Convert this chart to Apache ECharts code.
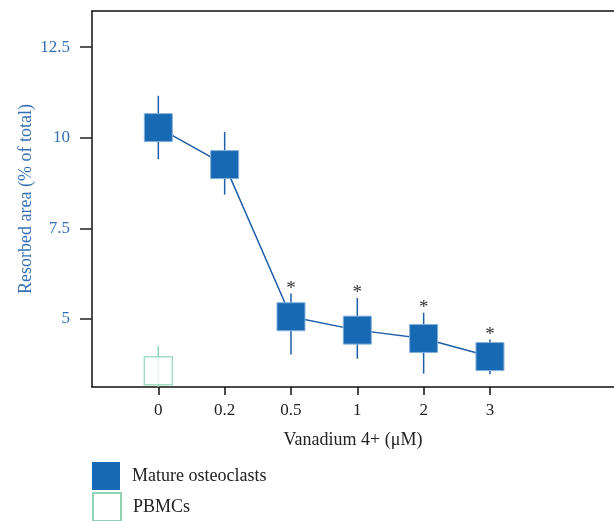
<!DOCTYPE html>
<html>
<head>
<meta charset="utf-8">
<script src="https://cdn.jsdelivr.net/npm/echarts@6/dist/echarts.min.js"></script>
<style>
html,body{margin:0;padding:0;background:#fff;}
#chart{width:614px;height:521px;}
</style>
</head>
<body>
<div id="chart"></div>
<script>
// ---- data ----
const doses = ['0', '0.2', '0.5', '1', '2', '3'];
const matureMean = [10.28, 9.26, 5.06, 4.69, 4.46, 3.96];
const matureLow  = [9.41, 8.43, 4.02, 3.90, 3.49, 3.47];
const matureHigh = [11.16, 10.16, 5.70, 5.58, 5.17, 4.43];
const significant = [false, false, true, true, true, true];
const pbmcDoseIndex = [0];
const pbmcMean = [3.57];
const pbmcLow  = [3.12];
const pbmcHigh = [4.25];
const yTicks = [5, 7.5, 10, 12.5];

const FONT = "'Liberation Serif', 'DejaVu Serif', serif";
const BLUE = '#1769b3';
const LINE_BLUE = '#1f5ea9';
const LABEL_BLUE = '#3470b5';
const GREEN = '#8fd3b4';

const matureBars = doses.map((d, i) => [i, matureLow[i], matureHigh[i]]);
const pbmcBars = pbmcDoseIndex.map((xi, i) => [xi, pbmcLow[i], pbmcHigh[i]]);
const starData = doses.map((d, i) => [i, matureHigh[i]]).filter((p, i) => significant[i]);

function errRender(color) {
  return function (params, api) {
    const x = api.value(0);
    const p1 = api.coord([x, api.value(1)]);
    const p2 = api.coord([x, api.value(2)]);
    return {
      type: 'line',
      shape: { x1: p1[0], y1: p1[1], x2: p2[0], y2: p2[1] },
      style: { stroke: color, lineWidth: 1.5 }
    };
  };
}
function starRender(params, api) {
  const p = api.coord([api.value(0), api.value(1)]);
  return {
    type: 'text',
    style: {
      text: '*', x: p[0], y: p[1] + 5,
      textAlign: 'center', textVerticalAlign: 'bottom',
      fontFamily: FONT, fontSize: 19, fill: '#333'
    }
  };
}

const legendBase = {
  orient: 'vertical', left: 92, padding: 0,
  itemWidth: 28, itemHeight: 28,
  textStyle: { fontFamily: FONT, fontSize: 18, color: '#222', padding: [0, 0, 0, 7] }
};

const chart = echarts.init(document.getElementById('chart'), null, { renderer: 'canvas' });
chart.setOption({
  animation: false,
  backgroundColor: '#fff',
  grid: { left: 92, right: 0, top: 11, bottom: 134, containLabel: false },
  legend: [
    Object.assign({}, legendBase, { top: 462, data: [{ name: 'Mature osteoclasts', icon: 'rect' }] }),
    Object.assign({}, legendBase, { top: 492, data: [{ name: 'PBMCs', icon: 'rect' }] })
  ],
  xAxis: [{
    type: 'value', min: -1, max: 6.87, position: 'bottom',
    name: 'Vanadium 4+ (\u03bcM)', nameLocation: 'middle', nameGap: 44,
    nameTextStyle: { fontFamily: FONT, fontSize: 18, color: '#222' },
    splitLine: { show: false },
    axisLine: { show: true, onZero: false, lineStyle: { color: '#111', width: 1.5 } },
    axisTick: { show: true, length: 8, lineStyle: { color: '#111', width: 1.5 }, customValues: doses.map((d, i) => i) },
    axisLabel: {
      show: true, margin: 15, fontFamily: FONT, fontSize: 17, color: '#222',
      customValues: doses.map((d, i) => i),
      formatter: v => doses[Math.round(v)]
    }
  }, {
    type: 'value', min: -1, max: 6.87, position: 'top',
    splitLine: { show: false },
    axisLine: { show: true, onZero: false, lineStyle: { color: '#111', width: 1.5 } },
    axisTick: { show: false }, axisLabel: { show: false }
  }],
  yAxis: {
    type: 'value', min: 3.12, max: 13.5,
    name: 'Resorbed area (% of total)', nameLocation: 'middle', nameGap: 57,
    nameMoveOverlap: false,
    nameTextStyle: { fontFamily: FONT, fontSize: 18, color: LABEL_BLUE },
    splitLine: { show: false },
    axisLine: { show: true, onZero: false, lineStyle: { color: '#111', width: 1.5 } },
    axisTick: { show: true, length: 12, lineStyle: { color: '#222', width: 1.5 }, customValues: yTicks },
    axisLabel: { margin: 22, fontFamily: FONT, fontSize: 17, color: LABEL_BLUE, customValues: yTicks }
  },
  series: [
    {
      name: 'Mature osteoclasts', type: 'custom', renderItem: errRender(LINE_BLUE),
      data: matureBars, z: 2, itemStyle: { color: BLUE }
    },
    {
      name: 'Mature osteoclasts', type: 'line',
      data: doses.map((d, i) => [i, matureMean[i]]),
      symbol: 'rect', symbolSize: 28,
      itemStyle: { color: BLUE, borderColor: '#86b0da', borderWidth: 1 },
      lineStyle: { color: LINE_BLUE, width: 1.5 }, z: 3
    },
    {
      name: 'significance', type: 'custom', renderItem: starRender,
      data: starData, z: 5
    },
    {
      name: 'PBMCs', type: 'custom', renderItem: errRender(GREEN),
      data: pbmcBars, z: 2, itemStyle: { color: '#fff', borderColor: GREEN, borderWidth: 1.5 }
    },
    {
      name: 'PBMCs', type: 'scatter',
      data: pbmcDoseIndex.map((xi, i) => [xi, pbmcMean[i]]),
      symbol: 'rect', symbolSize: 28,
      itemStyle: { color: '#fff', borderColor: GREEN, borderWidth: 1.5 }, z: 3
    }
  ]
});
</script>
</body>
</html>
